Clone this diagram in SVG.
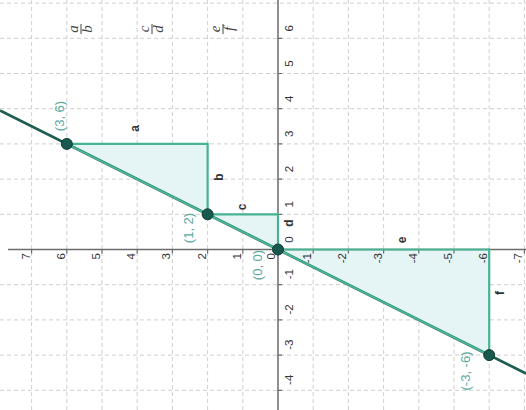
<svg xmlns="http://www.w3.org/2000/svg" width="526" height="410" viewBox="0 0 526 410">
<style>
.grid{stroke:#cfcfcf;stroke-width:1;stroke-dasharray:4,3;fill:none}
.axis{stroke:#6b6b6b;stroke-width:1.5;fill:none}
.tick{stroke:#6b6b6b;stroke-width:1.2}
.al{font-family:"Liberation Sans",Arial,sans-serif;font-size:11.5px;fill:#333}
.pl{font-family:"Liberation Sans",Arial,sans-serif;font-size:13px;fill:#5ba89f;text-anchor:middle}
.sl{font-family:"Liberation Sans",Arial,sans-serif;font-size:12px;font-weight:bold;fill:#333;text-anchor:middle}
.fr{font-family:"Liberation Serif","Times New Roman",serif;font-size:15px;font-style:italic;fill:#444;text-anchor:middle}
.tri{fill:#e5f4f4;stroke:none}
.seg{stroke:#46b393;stroke-width:2.2;fill:none;stroke-linecap:round}
.pt{fill:#17594e;stroke:#0e3b34;stroke-width:1}
</style>
<rect width="526" height="410" fill="#ffffff"/>
<g id="grid">
<path class="grid" d="M31.6 0V410M66.8 0V410M102 0V410M137.2 0V410M172.4 0V410M207.6 0V410M242.8 0V410M313.2 0V410M348.4 0V410M383.6 0V410M418.8 0V410M454 0V410M489.2 0V410M524.4 0V410"/>
<path class="grid" d="M0 3.1H526M0 38.3H526M0 73.5H526M0 108.7H526M0 143.9H526M0 179.1H526M0 214.3H526M0 284.7H526M0 319.9H526M0 355.1H526M0 390.3H526"/>
</g>
<g id="triangles">
<polygon class="tri" points="66.8,143.9 207.6,143.9 207.6,214.3"/>
<polygon class="tri" points="207.6,214.3 278,214.3 278,249.5"/>
<polygon class="tri" points="278,249.5 489.2,249.5 489.2,355.1"/>
</g>
<g id="axes">
<path class="axis" d="M8 249.5H526M278 0V410"/>
<path class="tick" d="M31.6 249.5v4M66.8 249.5v4M102 249.5v4M137.2 249.5v4M172.4 249.5v4M207.6 249.5v4M242.8 249.5v4M313.2 249.5v4M348.4 249.5v4M383.6 249.5v4M418.8 249.5v4M454 249.5v4M489.2 249.5v4M524.4 249.5v4"/>
<path class="tick" d="M278 38.3h4M278 73.5h4M278 108.7h4M278 143.9h4M278 179.1h4M278 214.3h4M278 284.7h4M278 319.9h4M278 355.1h4M278 390.3h4"/>
</g>
<g id="axis-labels-h" class="al" text-anchor="end">
<text x="29.6" y="253" transform="rotate(-90 29.6 253)">7</text>
<text x="64.8" y="253" transform="rotate(-90 64.8 253)">6</text>
<text x="100" y="253" transform="rotate(-90 100 253)">5</text>
<text x="135.2" y="253" transform="rotate(-90 135.2 253)">4</text>
<text x="170.4" y="253" transform="rotate(-90 170.4 253)">3</text>
<text x="205.6" y="253" transform="rotate(-90 205.6 253)">2</text>
<text x="240.8" y="253" transform="rotate(-90 240.8 253)">1</text>
<text x="275" y="253" transform="rotate(-90 275 253)">0</text>
<text x="311.2" y="253" transform="rotate(-90 311.2 253)">-1</text>
<text x="346.4" y="253" transform="rotate(-90 346.4 253)">-2</text>
<text x="381.6" y="253" transform="rotate(-90 381.6 253)">-3</text>
<text x="416.8" y="253" transform="rotate(-90 416.8 253)">-4</text>
<text x="452" y="253" transform="rotate(-90 452 253)">-5</text>
<text x="487.2" y="253" transform="rotate(-90 487.2 253)">-6</text>
<text x="522.4" y="253" transform="rotate(-90 522.4 253)">-7</text>
</g>
<g id="axis-labels-v" class="al" text-anchor="middle">
<text x="293" y="28.3" transform="rotate(-90 293 28.3)">6</text>
<text x="293" y="63.5" transform="rotate(-90 293 63.5)">5</text>
<text x="293" y="98.7" transform="rotate(-90 293 98.7)">4</text>
<text x="293" y="133.9" transform="rotate(-90 293 133.9)">3</text>
<text x="293" y="169.1" transform="rotate(-90 293 169.1)">2</text>
<text x="293" y="204.3" transform="rotate(-90 293 204.3)">1</text>
<text x="293" y="239.5" transform="rotate(-90 293 239.5)">0</text>
<text x="293" y="274.2" transform="rotate(-90 293 274.2)">-1</text>
<text x="293" y="309.4" transform="rotate(-90 293 309.4)">-2</text>
<text x="293" y="344.6" transform="rotate(-90 293 344.6)">-3</text>
<text x="293" y="379.8" transform="rotate(-90 293 379.8)">-4</text>
</g>
<g id="connectors">
<line id="line-y2x" x1="0" y1="110.5" x2="526" y2="373.5" stroke="#1f5c52" stroke-width="2.6"/>
<line id="seg-main" class="seg" x1="66.8" y1="143.9" x2="489.2" y2="355.1"/>
<line id="seg-a" class="seg" x1="66.8" y1="143.9" x2="207.6" y2="143.9"/>
<line id="seg-b" class="seg" x1="207.6" y1="143.9" x2="207.6" y2="214.3"/>
<line id="seg-c" class="seg" x1="207.6" y1="214.3" x2="278" y2="214.3"/>
<line id="seg-d" class="seg" x1="278" y1="214.3" x2="278" y2="249.5"/>
<line id="seg-e" class="seg" x1="278" y1="249.5" x2="489.2" y2="249.5"/>
<line id="seg-f" class="seg" x1="489.2" y1="249.5" x2="489.2" y2="355.1"/>
</g>
<g id="segment-labels" class="sl">
<text x="138.5" y="128.5" transform="rotate(-90 138.5 128.5)">a</text>
<text x="222.5" y="177" transform="rotate(-90 222.5 177)">b</text>
<text x="245.5" y="207" transform="rotate(-90 245.5 207)">c</text>
<text x="292.5" y="223" transform="rotate(-90 292.5 223)">d</text>
<text x="405.5" y="240" transform="rotate(-90 405.5 240)">e</text>
<text x="504" y="293" transform="rotate(-90 504 293)">f</text>
</g>
<g id="point-A">
<circle class="pt" cx="66.8" cy="143.9" r="5.5"/>
<text class="pl" x="63.5" y="116" transform="rotate(-90 63.5 116)">(3, 6)</text>
</g>
<g id="point-B">
<circle class="pt" cx="207.6" cy="214.3" r="5.5"/>
<text class="pl" x="192.5" y="228" transform="rotate(-90 192.5 228)">(1, 2)</text>
</g>
<g id="point-O">
<circle class="pt" cx="278" cy="249.5" r="5.5"/>
<text class="pl" x="261.5" y="265" transform="rotate(-90 261.5 265)">(0, 0)</text>
</g>
<g id="point-C">
<circle class="pt" cx="489.2" cy="355.1" r="5.5"/>
<text class="pl" x="470" y="371" transform="rotate(-90 470 371)">(-3, -6)</text>
</g>
<g id="fraction-ab" transform="translate(81 29) rotate(-90)">
<text class="fr" x="0" y="-3.5">a</text>
<line x1="-5" y1="0" x2="5" y2="0" stroke="#444" stroke-width="1"/>
<text class="fr" x="0" y="10.5">b</text>
</g>
<g id="fraction-cd" transform="translate(152 29) rotate(-90)">
<text class="fr" x="0" y="-3.5">c</text>
<line x1="-5" y1="0" x2="5" y2="0" stroke="#444" stroke-width="1"/>
<text class="fr" x="0" y="10.5">d</text>
</g>
<g id="fraction-ef" transform="translate(223 29) rotate(-90)">
<text class="fr" x="0" y="-3.5">e</text>
<line x1="-5" y1="0" x2="5" y2="0" stroke="#444" stroke-width="1"/>
<text class="fr" x="0" y="10.5">f</text>
</g>
</svg>
